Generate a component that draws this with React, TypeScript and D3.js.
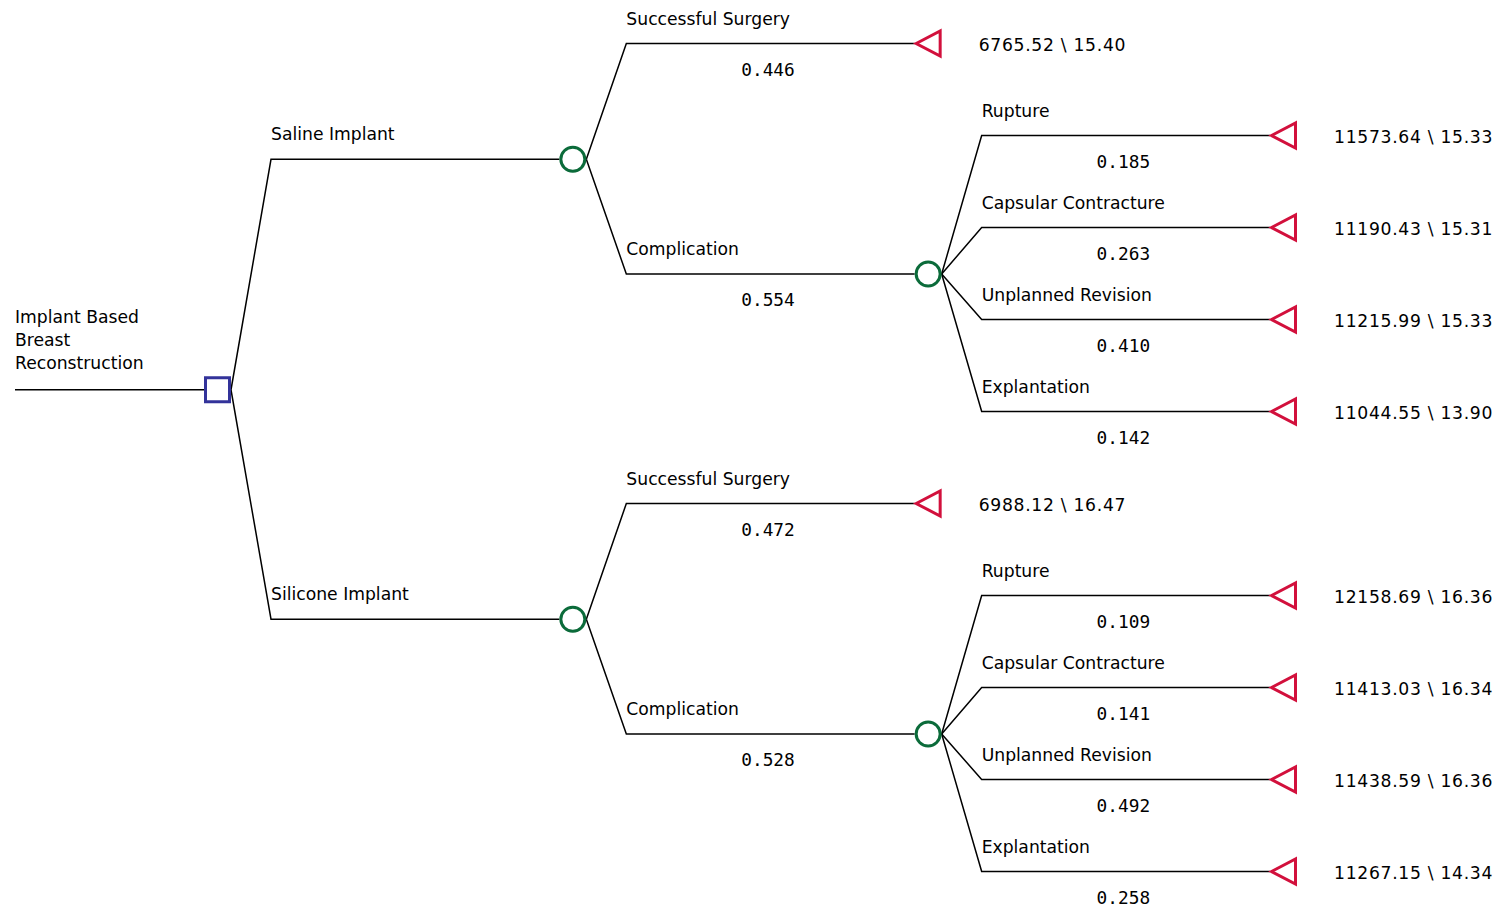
import React from "react";
import * as d3 from "d3";

const rootLabel = ["Implant Based", "Breast", "Reconstruction"];
const strategies = ["Saline Implant", "Silicone Implant"];
const outcomes = ["Successful Surgery", "Complication"];
const complications = ["Rupture", "Capsular Contracture", "Unplanned Revision", "Explantation"];

const outcomeProbs = [
  [0.446, 0.554],
  [0.472, 0.528],
];
const complicationProbs = [
  [0.185, 0.263, 0.41, 0.142],
  [0.109, 0.141, 0.492, 0.258],
];
const successCost = [6765.52, 6988.12];
const successQaly = [15.4, 16.47];
const complicationCost = [
  [11573.64, 11190.43, 11215.99, 11044.55],
  [12158.69, 11413.03, 11438.59, 11267.15],
];
const complicationQaly = [
  [15.33, 15.31, 15.33, 13.9],
  [16.36, 16.34, 16.36, 14.34],
];

type TNode = {
  name: string;
  type: "decision" | "chance" | "terminal";
  prob?: number;
  cost?: number;
  qaly?: number;
  children?: TNode[];
};

const treeData: TNode = {
  name: rootLabel.join(" "),
  type: "decision",
  children: strategies.map((s, i) => ({
    name: s,
    type: "chance",
    children: [
      { name: outcomes[0], type: "terminal", prob: outcomeProbs[i][0], cost: successCost[i], qaly: successQaly[i] },
      {
        name: outcomes[1],
        type: "chance",
        prob: outcomeProbs[i][1],
        children: complications.map((c, j) => ({
          name: c,
          type: "terminal",
          prob: complicationProbs[i][j],
          cost: complicationCost[i][j],
          qaly: complicationQaly[i][j],
        })),
      },
    ],
  })),
};

const W = 1498;
const H = 908;
const SYM = 27; // symbol width
const DIAG = 40; // diagonal horizontal length
const LABEL_FONT = "'DejaVu Sans', sans-serif";
const MONO_FONT = "'DejaVu Sans Mono', monospace";
const LABEL_SIZE = 17.2;
const BLUE = "#33339a";
const GREEN = "#0b6b3a";
const RED = "#d2103c";

export default function App() {
  const root = d3.hierarchy<TNode>(treeData);
  const leaves = root.leaves();
  const yScale = d3.scaleLinear().domain([0, leaves.length - 1]).range([43.5, 871.5]);
  const xScale = d3.scaleLinear().domain([0, 3]).range([204, 1270]);

  const pos = new Map<any, { x: number; y: number }>();
  leaves.forEach((l, i) => pos.set(l, { x: xScale(l.depth), y: yScale(i) }));
  root.eachAfter((n) => {
    if (n.children) {
      const ys = n.children.map((c) => pos.get(c)!.y);
      pos.set(n, { x: xScale(n.depth), y: d3.mean(ys)! + 0.5 });
    }
  });

  const elements: React.ReactNode[] = [];
  const rp = pos.get(root)!;
  // root stem line
  elements.push(<line key="rootline" x1={15} x2={rp.x} y1={rp.y} y2={rp.y} stroke="#000" strokeWidth={1.5} />);
  rootLabel.forEach((t, i) =>
    elements.push(
      <text key={"rl" + i} x={15} y={rp.y - 67 + i * 23} fontFamily={LABEL_FONT} fontSize={LABEL_SIZE} fill="#000">
        {t}
      </text>
    )
  );

  root.descendants().forEach((n, k) => {
    const p = pos.get(n)!;
    if (n.parent) {
      const pp = pos.get(n.parent)!;
      const sx = pp.x + SYM;
      const bx = sx + DIAG;
      elements.push(
        <path
          key={"br" + k}
          d={d3.line()([[sx, pp.y], [bx, p.y], [p.x, p.y]]) as string}
          fill="none"
          stroke="#000"
          strokeWidth={1.5}
        />
      );
      elements.push(
        <text key={"lb" + k} x={bx} y={p.y - 19} fontFamily={LABEL_FONT} fontSize={LABEL_SIZE} fill="#000">
          {n.data.name}
        </text>
      );
      if (n.data.prob !== undefined) {
        elements.push(
          <text
            key={"pr" + k}
            x={(bx + p.x) / 2 - 2.5}
            y={p.y + 32}
            textAnchor="middle"
            fontFamily={MONO_FONT}
            fontSize={17.8}
            fill="#000"
          >
            {n.data.prob.toFixed(3)}
          </text>
        );
      }
    }
  });

  // symbols drawn on top
  root.descendants().forEach((n, k) => {
    const p = pos.get(n)!;
    if (n.data.type === "decision") {
      elements.push(
        <rect key={"sq" + k} x={p.x + 1.5} y={p.y - 12} width={SYM - 3} height={24} fill="#fff" stroke={BLUE} strokeWidth={3} />
      );
    } else if (n.data.type === "chance") {
      elements.push(
        <circle key={"ci" + k} cx={p.x + SYM / 2} cy={p.y} r={12} fill="#fff" stroke={GREEN} strokeWidth={3} />
      );
    } else {
      elements.push(
        <path
          key={"tr" + k}
          d={`M${p.x + 1.5},${p.y} L${p.x + SYM - 1.5},${p.y - 12.5} L${p.x + SYM - 1.5},${p.y + 12.5} Z`}
          fill="#fff"
          stroke={RED}
          strokeWidth={3}
          strokeLinejoin="miter"
        />
      );
      elements.push(
        <text
          key={"pay" + k}
          x={p.x + 64}
          y={p.y + 7}
          fontFamily={LABEL_FONT}
          fontSize={LABEL_SIZE}
          letterSpacing={0.7}
          fill="#000"
        >
          {`${n.data.cost!.toFixed(2)} \\ ${n.data.qaly!.toFixed(2)}`}
        </text>
      );
    }
  });

  return (
    <svg width={W} height={H} style={{ position: "absolute", left: 0, top: 0, background: "#fff" }}>
      {elements}
    </svg>
  );
}
